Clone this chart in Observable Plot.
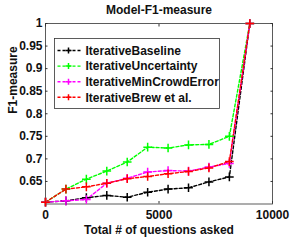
<!DOCTYPE html>
<html>
<head>
<meta charset="utf-8">
<script src="https://cdn.jsdelivr.net/npm/d3@7"></script>
<script src="https://cdn.jsdelivr.net/npm/@observablehq/plot@0.6"></script>
<style>
  html, body { margin: 0; padding: 0; background: #fff; }
  #wrap { width: 291px; height: 241px; }
</style>
</head>
<body>
<div id="wrap"></div>
<script>
// Data
const questions = [0, 900, 1800, 2700, 3600, 4500, 5400, 6300, 7200, 8100, 9000];
const baseline      = [0.604, 0.607, 0.614, 0.619, 0.615, 0.626, 0.633, 0.636, 0.649, 0.660, 1.0];
const uncertainty   = [0.604, 0.633, 0.655, 0.673, 0.693, 0.726, 0.724, 0.731, 0.732, 0.750, 1.0];
const minCrowdError = [0.604, 0.607, 0.610, 0.646, 0.657, 0.671, 0.674, 0.673, 0.682, 0.690, 1.0];
const brew          = [0.604, 0.633, 0.638, 0.646, 0.656, 0.661, 0.667, 0.672, 0.680, 0.694, 1.0];
const seriesNames = ["IterativeBaseline", "IterativeUncertainty", "IterativeMinCrowdError", "IterativeBrew et al."];
const seriesColors = ["#000000", "#00ff00", "#ff00ff", "#ff0000"];
const xTicks = [0, 5000, 10000];
const yTicks = [0.65, 0.7, 0.75, 0.8, 0.85, 0.9, 0.95, 1];
const title = "Model-F1-measure";
const xLabel = "Total # of questions asked";
const yLabel = "F1-measure";

const allSeries = [baseline, uncertainty, minCrowdError, brew];
const data = allSeries.flatMap((vals, i) =>
  vals.map((v, j) => ({series: seriesNames[i], x: questions[j], y: v})));

const chart = Plot.plot({
  width: 291,
  height: 241,
  marginLeft: 45,
  marginRight: 19,
  marginTop: 23,
  marginBottom: 37.5,
  style: {fontFamily: "'Liberation Sans', Arial, sans-serif", fontSize: "12px", fontWeight: "bold", color: "#111", background: "#fff"},
  x: {domain: [0, 10000], label: null},
  y: {domain: [0.6, 1], label: null},
  color: {domain: seriesNames, range: seriesColors},
  marks: [
    Plot.frame({stroke: "#333", strokeWidth: 0.8}),
    Plot.axisX({ticks: xTicks, anchor: "bottom", tickSize: -2.5, text: null, stroke: "#333", label: null}),
    Plot.axisX({ticks: xTicks, anchor: "top", tickSize: -2.5, text: null, stroke: "#333", label: null}),
    Plot.axisY({ticks: yTicks, anchor: "left", tickSize: -2.5, text: null, stroke: "#333", label: null}),
    Plot.axisY({ticks: yTicks, anchor: "right", tickSize: -2.5, text: null, stroke: "#333", label: null}),
    Plot.axisY({ticks: yTicks, anchor: "left", tickSize: 0, tickPadding: 3, tickFormat: d => String(d), label: null}),
    Plot.line(data, {x: "x", y: "y", z: "series", stroke: "series", strokeWidth: 1.4, strokeDasharray: "3,2"}),
    Plot.dot(data, {x: "x", y: "y", stroke: "series", symbol: "plus", r: 2.9, strokeWidth: 1.5}),
    Plot.text(xTicks, {x: d => d, text: d => String(d), frameAnchor: "bottom", lineAnchor: "middle", dy: 11, fill: "#111"}),
    Plot.text([title], {frameAnchor: "top", lineAnchor: "middle", dy: -13.5, fill: "#111"}),
    Plot.text([xLabel], {frameAnchor: "bottom", lineAnchor: "middle", dy: 26.5, fill: "#111"}),
    Plot.text([yLabel], {frameAnchor: "left", lineAnchor: "middle", dx: -32, rotate: -90, fill: "#111"})
  ]
});
document.getElementById("wrap").appendChild(chart);

// Legend drawn inside the SVG
const lg = d3.select(chart).append("g").attr("transform", "translate(54.5,38.5)");
lg.append("rect").attr("width", 165).attr("height", 70)
  .attr("fill", "#fff").attr("stroke", "#333").attr("stroke-width", 0.8);
seriesNames.forEach((name, i) => {
  const c = seriesColors[i];
  const row = lg.append("g").attr("transform", `translate(0,${12 + i * 15.6})`);
  row.append("line").attr("x1", 3).attr("x2", 26).attr("y1", 0).attr("y2", 0)
    .attr("stroke", c).attr("stroke-width", 1.4).attr("stroke-dasharray", "3,2");
  row.append("path").attr("d", "M11,0h6M14,-3v6").attr("fill", "none").attr("stroke", c).attr("stroke-width", 1.5);
  row.append("text").attr("x", 31).attr("y", 0).attr("dy", "0.35em")
    .attr("text-anchor", "start")
    .attr("fill", "#111").attr("font-size", 12).attr("font-weight", "bold").text(name);
});
</script>
</body>
</html>
